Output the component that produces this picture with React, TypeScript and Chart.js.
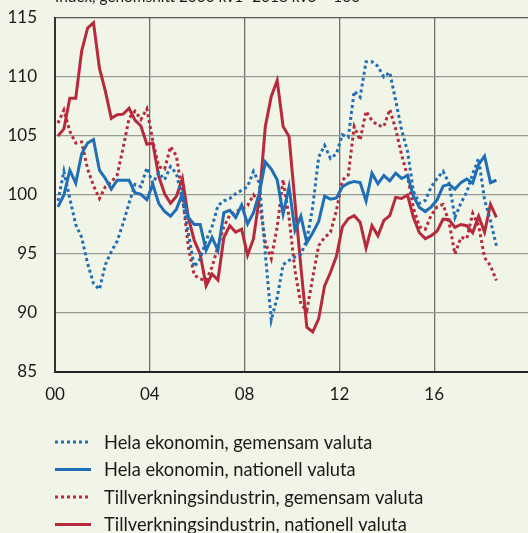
import React, { useEffect, useRef } from "react";
import { Chart, registerables } from "chart.js";

Chart.register(...registerables);

// Quarterly data, 2000 kv1 – 2018 kv3 (index, average = 100)
const tickLabels = ["00", "04", "08", "12", "16"];
const titleText = "Index, genomsnitt 2000 kv1–2018 kv3 = 100";
const seriesNames = [
  "Hela ekonomin, gemensam valuta",
  "Hela ekonomin, nationell valuta",
  "Tillverkningsindustrin, gemensam valuta",
  "Tillverkningsindustrin, nationell valuta",
];

const helaGem = [
  99.5, 102.0, 99.7, 97.5, 96.4, 94.2, 92.5, 92.0, 94.1, 95.2,
  96.1, 97.6, 99.3, 100.9, 100.7, 102.3, 101.0, 101.9, 101.3, 102.4,
  101.8, 99.6, 96.8, 93.9, 94.6, 96.15, 97.3, 99.1, 99.5, 99.7,
  100.1, 100.4, 100.7, 102.0, 101.0, 95.0, 89.4, 91.3, 94.1, 94.45,
  94.75, 95.0, 96.15, 99.0, 103.2, 104.2, 103.1, 103.5, 105.1, 104.9,
  108.8, 108.3, 111.3, 111.3, 110.9, 110.0, 110.4, 108.0, 105.5, 103.7,
  100.3, 99.3, 99.55, 100.7, 101.4, 102.0, 101.0, 98.1, 99.3, 100.25,
  101.8, 103.1, 99.6, 97.8, 95.7,
];

const helaNat = [
  99.0, 100.0, 102.1, 101.0, 103.5, 104.4, 104.7, 102.1, 101.4, 100.5,
  101.25, 101.25, 101.25, 100.2, 100.05, 99.6, 100.9, 99.3, 98.6, 98.2,
  98.8, 100.1, 98.1, 97.5, 97.5, 95.3, 96.4, 95.3, 98.5, 98.7,
  98.1, 99.15, 97.55, 98.5, 100.2, 102.8, 102.2, 101.3, 98.4, 100.7,
  97.0, 98.2, 95.95, 96.8, 97.75, 99.9, 99.65, 99.75, 100.7, 101.0,
  101.15, 101.05, 99.5, 101.85, 100.95, 101.65, 101.2, 101.85, 101.4, 101.65,
  99.9, 98.95, 98.6, 99.0, 99.6, 100.75, 100.9, 100.5, 101.05, 101.35,
  101.0, 102.6, 103.3, 101.05, 101.25,
];

const tillvGem = [
  106.1, 107.2, 105.4, 104.4, 104.5, 102.2, 100.8, 99.7, 100.7, 101.1,
  101.7, 104.0, 106.5, 107.1, 106.4, 107.3, 104.6, 102.4, 102.2, 104.1,
  103.3, 100.0, 95.6, 93.2, 92.9, 92.75, 93.9, 95.6, 97.3, 98.3,
  98.6, 98.8, 99.1, 100.0, 99.4, 96.0, 94.6, 97.3, 101.3, 98.1,
  93.6, 90.75, 90.2, 93.0, 95.7, 96.4, 96.85, 98.7, 101.25, 101.7,
  105.8, 104.65, 107.1, 106.3, 105.9, 105.8, 107.25, 105.6, 103.4, 101.6,
  98.9, 97.3, 97.1, 98.3, 99.0, 99.2, 97.7, 95.0, 96.4, 96.3,
  98.45, 97.4, 94.7, 94.0, 92.75,
];

const tillvNat = [
  105.0, 105.6, 108.2, 108.2, 112.2, 114.15, 114.6, 110.75, 108.8, 106.5,
  106.8, 106.85, 107.35, 106.35, 105.85, 104.3, 104.4, 101.6, 100.1, 99.3,
  99.9, 101.4, 98.1, 96.15, 95.0, 92.3, 93.3, 92.8, 96.4, 97.4,
  96.85, 97.1, 94.9, 96.3, 99.8, 105.8, 108.35, 109.7, 105.8, 104.95,
  99.4, 93.9, 88.8, 88.4, 89.5, 92.3, 93.45, 94.8, 97.3, 98.0,
  98.25, 97.7, 95.5, 97.4, 96.55, 97.85, 98.25, 99.8, 99.7, 100.0,
  98.1, 96.8, 96.3, 96.55, 96.95, 97.95, 97.9, 97.25, 97.5, 97.4,
  96.8, 98.2, 96.85, 99.2, 98.1,
];

const BLUE = "#1f6eb6";
const RED = "#b62a3b";
const BG = "#f1f5e7";
const TEXT = "#1a1a1a";
const FONT = "Lato";

const toPoints = (arr: number[]) => arr.map((y, i) => ({ x: i + 0.5, y }));

const seriesStyles = [
  { data: helaGem, color: BLUE, dash: [3, 3] },
  { data: helaNat, color: BLUE, dash: [] as number[] },
  { data: tillvGem, color: RED, dash: [3, 3] },
  { data: tillvNat, color: RED, dash: [] as number[] },
];

const overlayPlugin = {
  id: "overlay",
  afterDraw(chart: any) {
    const ctx = chart.ctx;
    ctx.save();
    ctx.fillStyle = TEXT;
    ctx.font = `15.4px ${FONT}`;
    ctx.textBaseline = "alphabetic";
    ctx.textAlign = "left";
    ctx.fillText(titleText, 55, 2);

    // legend
    const rowY = [442, 469.5, 497, 524.5];
    ctx.font = `18.3px ${FONT}`;
    ctx.textBaseline = "middle";
    seriesStyles.forEach((s, k) => {
      const y = rowY[k];
      ctx.strokeStyle = s.color;
      ctx.lineWidth = 3;
      ctx.lineCap = "butt";
      ctx.setLineDash(s.dash);
      ctx.beginPath();
      ctx.moveTo(55, y);
      ctx.lineTo(91, y);
      ctx.stroke();
      ctx.setLineDash([]);
      ctx.fillStyle = TEXT;
      ctx.fillText(seriesNames[k], 104, y + 1);
    });
    ctx.restore();
  },
};

export default function App() {
  const ref = useRef<HTMLCanvasElement | null>(null);
  useEffect(() => {
    if (!ref.current) return;
    const chart = new Chart(ref.current, {
      type: "line",
      data: {
        datasets: seriesStyles.map((s, k) => ({
          label: seriesNames[k],
          data: toPoints(s.data),
          borderColor: s.color,
          backgroundColor: s.color,
          borderWidth: 3,
          borderDash: s.dash,
          borderCapStyle: "butt",
          pointRadius: 0,
          tension: 0,
          fill: false,
        })),
      },
      options: {
        responsive: false,
        animation: false,
        devicePixelRatio: 1,
        layout: { autoPadding: false, padding: { top: 18, right: 11, bottom: 121, left: 0 } },
        plugins: {
          legend: { display: false },
          title: { display: false },
          tooltip: { enabled: false },
        },
        scales: {
          x: {
            type: "linear",
            min: 0,
            max: 80,
            afterFit: (s: any) => {
              s.height = 40;
              s.paddingLeft = 0;
              s.paddingRight = 0;
            },
            ticks: {
              stepSize: 16,
              autoSkip: false,
              maxRotation: 0,
              padding: 12,
              color: TEXT,
              font: { family: FONT, size: 17 },
              callback: (v: any) => {
                const n = Number(v);
                return n % 16 === 0 && n / 16 < tickLabels.length ? tickLabels[n / 16] : "";
              },
            },
            grid: { color: "#707070", lineWidth: 1.3, drawTicks: false },
            border: { display: true, color: "#222", width: 2 },
          },
          y: {
            min: 85,
            max: 115,
            afterFit: (s: any) => {
              s.width = 55;
              s.paddingTop = 0;
              s.paddingBottom = 0;
            },
            ticks: {
              stepSize: 5,
              padding: 18,
              color: TEXT,
              font: { family: FONT, size: 17 },
            },
            grid: {
              color: (c: any) => (c.tick && c.tick.value === 115 ? "#5a5a5a" : "#9a9a94"),
              lineWidth: 1.3,
              drawTicks: false,
            },
            border: { display: true, color: "#333", width: 2 },
          },
        },
      },
      plugins: [overlayPlugin],
    } as any);
    return () => chart.destroy();
  }, []);

  return (
    <div
      style={{
        position: "fixed",
        left: 0,
        top: 0,
        width: 528,
        height: 533,
        overflow: "hidden",
        background: BG,
      }}
    >
      <canvas ref={ref} width={540} height={533} style={{ width: 540, height: 533, display: "block" }} />
    </div>
  );
}
